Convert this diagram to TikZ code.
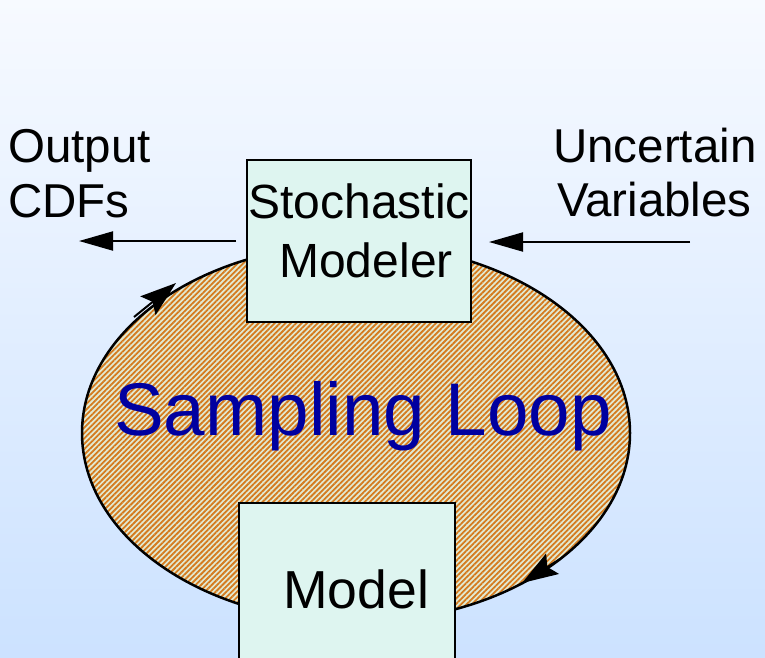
\documentclass[tikz,border=0pt]{standalone}
\usepackage{fontspec}
\setmainfont{Liberation Sans}
\usetikzlibrary{arrows.meta,patterns.meta,shapes.geometric}

\definecolor{bgtop}{RGB}{247,250,255}
\definecolor{bgbot}{RGB}{204,226,255}
\definecolor{boxfill}{RGB}{222,245,240}
\definecolor{hatchbg}{RGB}{226,234,210}
\definecolor{hatchfg}{RGB}{212,122,30}
\definecolor{loopblue}{RGB}{0,0,160}

\tikzset{
  sidelabel/.style={inner sep=0pt, font=\fontsize{47.5}{56}\selectfont},
  boxtext/.style={inner sep=0pt, font=\fontsize{48}{58}\selectfont},
  blockbox/.style={draw=black, line width=2pt, fill=boxfill, rectangle, inner sep=0pt},
  loopshape/.style={ellipse, draw=black, line width=2.5pt, inner sep=0pt,
    preaction={fill=hatchbg},
    pattern={Lines[angle=45, distance=3.8pt, line width=1.8pt]},
    pattern color=hatchfg},
  flowarrow/.style={line width=2pt, -{Triangle[length=34pt, width=19pt]}},
  looparrow/.style={line width=2pt, -{Stealth[length=36pt, width=24pt, inset=6pt]}},
}

\begin{document}
\begin{tikzpicture}[x=1pt, y=-1pt]
  \clip (0,0) rectangle (765,657);
  \useasboundingbox (0,0) rectangle (765,657);

  % background
  \shade[top color=bgtop, bottom color=bgbot] (0,0) rectangle (765,657);

  % hatched loop
  \node[loopshape, minimum width=548pt, minimum height=378pt] (loop) at (356,433) {};

  % blocks
  \node[blockbox, minimum width=224pt, minimum height=162pt] (smod) at (359,241) {};
  \node[blockbox, minimum width=216pt, minimum height=175pt] (model) at (347,590.5) {};

  % block texts
  \node[boxtext, anchor=base] (smodA) at (359,218) {Stochastic};
  \node[boxtext, anchor=base] (smodB) at (366,277) {Modeler};
  \node[inner sep=0pt, font=\fontsize{53.5}{62}\selectfont, anchor=base west] (modelT) at (283,608) {Model};

  % loop text
  \node[inner sep=0pt, font=\fontsize{74.6}{88}\selectfont, text=loopblue, anchor=base west] (loopT) at (114,435) {Sampling Loop};

  % side labels
  \node[sidelabel, anchor=base west] (outA) at (8,162) {Output};
  \node[sidelabel, anchor=base west] (outB) at (8,217) {CDFs};
  \node[sidelabel, anchor=base west] (uncA) at (553,162) {Uncertain};
  \node[sidelabel, anchor=base west] (uncB) at (557,216) {Variables};

  % input and output arrows
  \coordinate (outStart) at (236,241);
  \coordinate (outTip) at (79,241);
  \coordinate (uncStart) at (690,242);
  \coordinate (uncTip) at (489,242);
  \draw[flowarrow] (outStart) -- (outTip);
  \draw[flowarrow] (uncStart) -- (uncTip);

  % arrows marking the direction of the loop
  \coordinate (loopAtail) at (134,317);
  \coordinate (loopAtip) at (176,283);
  \coordinate (loopBtail) at (560,559);
  \coordinate (loopBtip) at (522,583);
  \draw[looparrow] (loopAtail) -- (loopAtip);
  \draw[looparrow] (loopBtail) -- (loopBtip);
\end{tikzpicture}
\end{document}
